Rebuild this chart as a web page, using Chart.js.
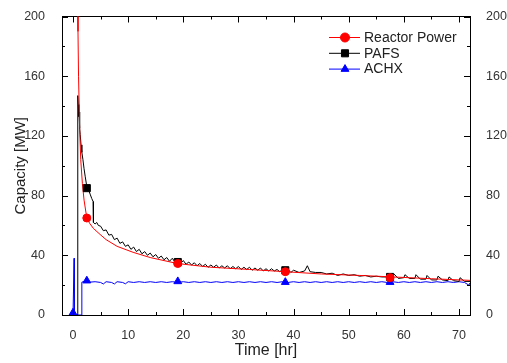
<!DOCTYPE html>
<html>
<head>
<meta charset="utf-8">
<script src="https://cdn.jsdelivr.net/npm/chart.js@4.4.1/dist/chart.umd.min.js"></script>
<style>
  html, body { margin: 0; padding: 0; background: #fff; }
  canvas { display: block; }
</style>
</head>
<body>
<canvas id="chart" width="507" height="363"></canvas>
<script>
// Reactor power (red, smooth decay)
const powerTime = [0.8, 0.9, 1.0, 1.2, 1.4, 1.7, 2.0, 2.5, 3.0, 3.7, 4.9, 6, 8, 10.9, 14, 18.9, 25, 32, 38.5, 45, 52, 58, 65, 72];
const powerValue = [260, 190, 160, 125, 104, 88, 77, 65, 61.5, 58, 54, 50.5, 46, 42, 38.5, 34.5, 32, 30.5, 29, 27.5, 26.5, 25.5, 24.3, 23.2];

// PAFS (black, noisy)
const pafsTime = [0, 0.85, 0.86, 0.95, 1.05, 1.1, 1.2, 1.3, 1.45, 1.6, 1.8, 2.0, 2.2, 2.5, 2.8, 3.1, 3.4, 3.65, 3.7, 4.0, 4.3, 4.6,
  5.0, 5.5, 6.0, 6.5, 7.0, 7.5, 8.0, 8.5, 9.0, 9.5, 10.0, 10.5, 11.0, 11.5, 12.0, 12.5, 13.0, 13.5, 14.0, 14.5,
  15.0, 15.5, 16.0, 16.5, 17.0, 17.5, 18.0, 18.5, 19.0, 19.5, 20.0, 20.5, 21.0, 21.5, 22.0, 22.5, 23.0, 23.5, 24.0, 24.5,
  25.0, 25.5, 26.0, 26.5, 27.0, 27.5, 28.0, 28.5, 29.0, 29.5, 30.0, 30.5, 31.0, 31.5, 32.0, 32.5, 33.0, 33.5, 34.0, 34.5,
  35.0, 35.5, 36.0, 36.5, 37.0, 37.5, 38.0, 38.5, 39.0, 39.5, 40.0,
  41, 42, 42.5, 43, 44, 45, 46, 47, 48, 49, 50, 51, 52, 53, 54, 55, 56, 57, 58, 58.2, 59, 60, 60.2, 61, 62, 62.2,
  63, 64, 64.2, 65, 66, 66.2, 67, 68, 68.2, 69, 70, 70.2, 71, 72];
const pafsValue = [0, 0, 147, 141, 133, 136, 125, 121, 114, 109, 104, 98, 93, 86, 84, 81, 78, 76, 62, 61, 62, 60,
  59.5, 56.5, 57, 53.5, 54, 50.5, 51.5, 48, 49, 46, 47, 44, 45.5, 42.5, 44, 41, 42.5, 40, 41.5, 39,
  40.5, 38, 39.5, 37, 38.5, 36, 38, 35.5, 37, 34.5, 36.5, 34, 35.5, 33.5, 35, 33, 34.5, 32.5, 34, 32,
  33.5, 32, 33.5, 31.5, 33, 31.5, 33, 31, 32.5, 31, 32.5, 30.5, 32, 30.5, 32, 30, 31.5, 30, 31.5, 29.5,
  31, 29.5, 31, 29.5, 30.5, 29, 30.5, 29.5, 30.5, 28.5, 30,
  28.5, 29.5, 33, 29, 28.5, 28.5, 27.5, 28, 26.5, 27.5, 26.5, 27, 26, 26.5, 25.5, 26, 25.5, 25.5, 25, 27.5, 24.5, 25, 27, 24.5, 24.5, 27,
  24, 24, 26.5, 23.5, 23.5, 26, 23.5, 23, 25.5, 23, 22.5, 25, 22.5, 22.5];

// ACHX (blue)
const achxTime = [0, 0.15, 0.2, 0.25, 1.5, 1.6, 2.0, 2.5,
  3, 4, 5, 5.5, 6, 7, 7.5, 8, 9, 9.5, 10, 11, 12, 13, 14, 15, 16, 17, 18, 19, 20, 21, 22, 23, 24, 25, 26, 27, 28, 29, 30,
  31, 32, 33, 34, 35, 36, 37, 38, 39, 40, 41, 42, 43, 44, 45, 46, 47, 48, 49, 50, 51, 52, 53, 54, 55, 56, 57, 58, 59, 60,
  61, 62, 63, 64, 65, 66, 67, 68, 69, 70, 71, 71.8, 72];
const achxValue = [0.5, 0.5, 38, 0, 0, 22, 22.5, 23,
  22, 22.3, 21.8, 20.8, 22.3, 21.8, 20.8, 22.3, 21.8, 20.9, 22.3, 21.8, 22.3, 21.8, 22.3, 21.8, 22.3, 21.8, 22.3, 21.8, 22.3, 21.8, 22.3, 21.8, 22.3, 21.8, 22.3, 21.8, 22.3, 21.8, 22.3,
  21.8, 22.3, 21.8, 22.3, 21.8, 22.3, 21.8, 22.3, 21.8, 22.3, 21.8, 22.3, 21.8, 22.3, 21.8, 22.3, 21.8, 22.3, 21.8, 22.3, 21.8, 22.3, 21.8, 22.3, 21.8, 22.3, 21.8, 22.3, 21.8, 22.3,
  21.8, 22.3, 21.8, 22.3, 21.8, 22.3, 21.8, 22.3, 21.8, 22.3, 21.8, 20, 21.5];

// marker positions
const markTime = [2.5, 19, 38.5, 57.5];
const powerMarkValue = [65, 34.5, 29, 25];
const pafsMarkValue = [85, 35.5, 30, 25.5];
const achxMarkTime = [0, 2.5, 19, 38.5, 57.5];
const achxMarkValue = [1.5, 23, 22.5, 22, 22];

const seriesNames = ['Reactor Power', 'PAFS', 'ACHX'];
const seriesColors = ['#ff0000', '#000000', '#0000ff'];
const seriesMarkers = ['circle', 'rect', 'triangle'];

const xRange = [-2, 72];
const yRange = [0, 200];

const FONT = "'Liberation Sans', Arial, sans-serif";

const pts = (xs, ys) => xs.map((t, i) => ({x: t, y: ys[i]}));

function lineSet(xs, ys, color, order) {
    return {
        data: pts(xs, ys),
        showLine: true,
        borderColor: color,
        borderWidth: 1,
        pointRadius: 0,
        tension: 0,
        order: order
    };
}

function markSet(xs, ys, color, style, radius, order) {
    return {
        data: pts(xs, ys),
        showLine: false,
        pointStyle: style,
        pointRadius: radius,
        backgroundColor: color,
        borderColor: color,
        borderWidth: 1,
        order: order
    };
}

// inward ticks on all four sides + inset legend
const frameTicks = {
    id: 'frameTicks',
    afterDraw(chart) {
        const {ctx, chartArea: a, scales: {x, y}} = chart;
        ctx.save();
        ctx.strokeStyle = '#000';
        ctx.lineWidth = 1;
        ctx.beginPath();
        x.ticks.forEach(t => {
            if (t.value % 5 !== 0) return;
            const px = Math.round(x.getPixelForValue(t.value)) + 0.5;
            const len = t.value % 10 === 0 ? 6 : 3;
            ctx.moveTo(px, a.bottom);
            ctx.lineTo(px, a.bottom - len);
            ctx.moveTo(px, a.top);
            ctx.lineTo(px, a.top + len);
        });
        y.ticks.forEach(t => {
            if (t.value % 20 !== 0) return;
            const py = Math.round(y.getPixelForValue(t.value)) + 0.5;
            const len = t.value % 40 === 0 ? 6 : 3;
            ctx.moveTo(a.left, py);
            ctx.lineTo(a.left + len, py);
            ctx.moveTo(a.right, py);
            ctx.lineTo(a.right - len, py);
        });
        ctx.stroke();

        // legend
        ctx.font = '14px ' + FONT;
        ctx.textBaseline = 'middle';
        ctx.textAlign = 'left';
        seriesNames.forEach((name, i) => {
            const ly = 37.5 + i * 15.8;
            ctx.strokeStyle = seriesColors[i];
            ctx.beginPath();
            ctx.moveTo(329, ly);
            ctx.lineTo(360, ly);
            ctx.stroke();
            ctx.fillStyle = seriesColors[i];
            Chart.helpers.drawPoint(ctx, {
                pointStyle: seriesMarkers[i],
                radius: seriesMarkers[i] === 'rect' ? 5 : 4.5,
                rotation: 0,
                borderWidth: 1
            }, 345, ly);
            ctx.fillStyle = '#222';
            ctx.fillText(name, 364, ly + 0.5);
        });
        ctx.restore();
    }
};

const tickFont = {family: FONT, size: 12.5};

new Chart(document.getElementById('chart'), {
    type: 'scatter',
    data: {
        datasets: [
            markSet(markTime, powerMarkValue, seriesColors[0], 'circle', 4, 0),
            markSet(achxMarkTime, achxMarkValue, seriesColors[2], 'triangle', 4.5, 1),
            markSet(markTime, pafsMarkValue, seriesColors[1], 'rect', 5, 2),
            lineSet(powerTime, powerValue, seriesColors[0], 3),
            lineSet(pafsTime, pafsValue, seriesColors[1], 4),
            lineSet(achxTime, achxValue, seriesColors[2], 5)
        ]
    },
    options: {
        responsive: false,
        animation: false,
        layout: {padding: 0},
        plugins: {
            legend: {display: false},
            tooltip: {enabled: false}
        },
        scales: {
            x: {
                type: 'linear',
                position: 'bottom',
                min: xRange[0],
                max: xRange[1],
                grid: {display: false},
                border: {display: true, color: '#000', width: 1},
                ticks: {
                    stepSize: 5,
                    includeBounds: false,
                    autoSkip: false,
                    maxRotation: 0,
                    padding: 5,
                    color: '#333',
                    font: tickFont,
                    callback: v => (v % 10 === 0 ? v : '')
                },
                title: {
                    display: true,
                    text: 'Time [hr]',
                    color: '#222',
                    font: {family: FONT, size: 16},
                    padding: {top: 0, bottom: 3}
                },
                afterFit: s => { s.height = 48; }
            },
            xTop: {
                type: 'linear',
                axis: 'x',
                position: 'top',
                min: xRange[0],
                max: xRange[1],
                grid: {display: false},
                border: {display: true, color: '#000', width: 1},
                ticks: {display: false},
                afterFit: s => { s.height = 16; }
            },
            y: {
                type: 'linear',
                position: 'left',
                min: yRange[0],
                max: yRange[1],
                grid: {display: false},
                border: {display: true, color: '#000', width: 1},
                ticks: {
                    stepSize: 20,
                    includeBounds: false,
                    autoSkip: false,
                    padding: 9,
                    color: '#333',
                    font: tickFont,
                    callback: v => (v % 40 === 0 ? v : '')
                },
                title: {
                    display: true,
                    text: 'Capacity [MW]',
                    color: '#222',
                    font: {family: FONT, size: 15},
                    padding: {top: 12, bottom: 0}
                },
                afterFit: s => { s.width = 62; }
            },
            yRight: {
                type: 'linear',
                axis: 'y',
                position: 'right',
                min: yRange[0],
                max: yRange[1],
                grid: {display: false},
                border: {display: true, color: '#000', width: 1},
                ticks: {
                    stepSize: 20,
                    includeBounds: false,
                    autoSkip: false,
                    padding: 8,
                    color: '#333',
                    font: tickFont,
                    callback: v => (v % 40 === 0 ? v : '')
                },
                afterFit: s => { s.width = 37; }
            }
        }
    },
    plugins: [frameTicks]
});
</script>
</body>
</html>
